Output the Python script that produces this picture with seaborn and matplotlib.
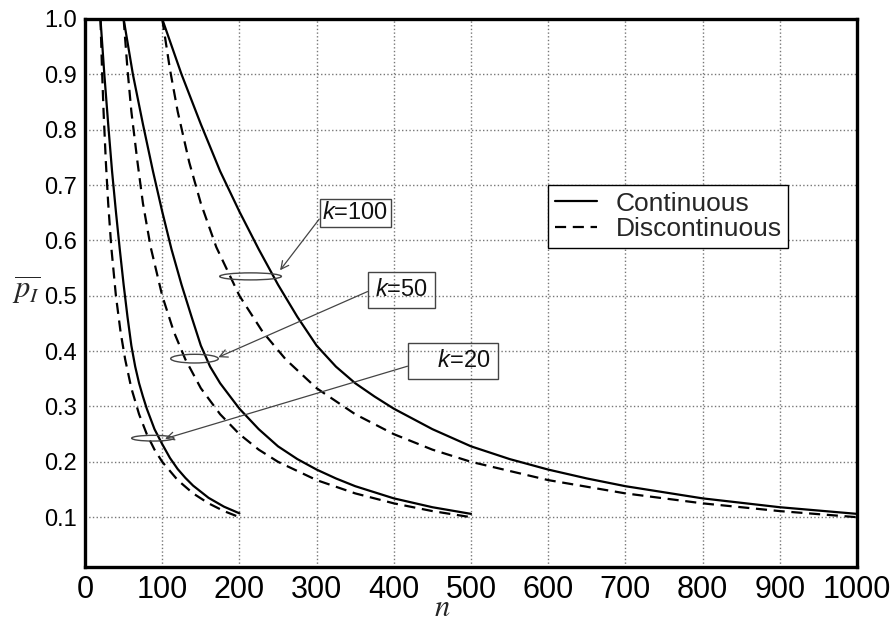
import numpy as np
import pandas as pd
import seaborn as sns
import matplotlib
matplotlib.use("Agg")
import matplotlib.pyplot as plt
from matplotlib.patches import Ellipse
from matplotlib.lines import Line2D

# curves (n, mean p_I)
n_c20 = [20, 25, 30, 35, 40, 45, 50, 55, 60, 65, 70, 75, 80, 90, 100, 110, 120, 130, 140, 160, 180, 200]
p_c20 = [1.0, 0.9, 0.81, 0.725, 0.652, 0.584, 0.52, 0.462, 0.41, 0.372, 0.342, 0.318, 0.296,
         0.259, 0.232, 0.207, 0.187, 0.171, 0.157, 0.135, 0.119, 0.107]
n_d20 = [20, 22, 24, 27, 30, 34, 40, 46, 52, 60, 70, 80, 90, 100, 120, 140, 160, 180, 200]
p_d20 = [1.0, 0.909, 0.833, 0.741, 0.667, 0.588, 0.5, 0.435, 0.385, 0.333, 0.286, 0.25,
         0.222, 0.2, 0.167, 0.143, 0.125, 0.111, 0.1]

n_c50 = [50, 62, 75, 88, 100, 112, 125, 138, 150, 162, 175, 188, 200, 225, 250, 275, 300, 325, 350, 400, 450, 500]
p_c50 = [1.0, 0.9, 0.81, 0.725, 0.652, 0.584, 0.52, 0.462, 0.41, 0.372, 0.342, 0.318, 0.296,
         0.259, 0.228, 0.205, 0.186, 0.17, 0.156, 0.134, 0.118, 0.106]
n_d50 = [50, 55, 60, 68, 75, 85, 100, 115, 130, 150, 175, 200, 225, 250, 300, 350, 400, 450, 500]
p_d50 = [1.0, 0.909, 0.833, 0.741, 0.667, 0.588, 0.5, 0.435, 0.385, 0.333, 0.286, 0.25,
         0.222, 0.2, 0.167, 0.143, 0.125, 0.111, 0.1]

n_c100 = [100, 125, 150, 175, 200, 225, 250, 275, 300, 325, 350, 375, 400, 450, 500, 550, 600, 650, 700, 800, 900, 1000]
p_c100 = [1.0, 0.9, 0.81, 0.725, 0.652, 0.584, 0.52, 0.462, 0.41, 0.372, 0.342, 0.318, 0.296,
          0.259, 0.228, 0.205, 0.186, 0.17, 0.156, 0.134, 0.118, 0.106]
n_d100 = [100, 110, 120, 135, 150, 170, 200, 230, 260, 300, 350, 400, 450, 500, 600, 700, 800, 900, 1000]
p_d100 = [1.0, 0.909, 0.833, 0.741, 0.667, 0.588, 0.5, 0.435, 0.385, 0.333, 0.286, 0.25,
          0.222, 0.2, 0.167, 0.143, 0.125, 0.111, 0.1]

x_ticks = [0, 100, 200, 300, 400, 500, 600, 700, 800, 900, 1000]
y_ticks = [0.1, 0.2, 0.3, 0.4, 0.5, 0.6, 0.7, 0.8, 0.9, 1.0]

# labels: text, ellipse centre, ellipse w/h, arrow tip, box centre
k_labels = ["$k$=100", "$k$=50", r"$\quad\, k$=20$\quad\,$"]
ell_xy = [(214.4, 0.535), (141.8, 0.3864), (87.8, 0.2427)]
ell_wh = [(80, 0.0127), (61.7, 0.0157), (54.8, 0.0103)]
tip_xy = [(252.6, 0.546), (172.7, 0.389), (103.6, 0.2418)]
box_xy = [(350.4, 0.649), (410, 0.51), (476.7, 0.3816)]
box_pad = [0.12, 0.3, 0.3]
arrow_rel = [(0, 0.43), (0, 0.59), (0, 0.38)]

sns.set_theme(style="white")
plt.rcParams['font.family'] = ['Liberation Sans', 'DejaVu Sans']
plt.rcParams['mathtext.fontset'] = 'custom'
plt.rcParams['mathtext.it'] = 'Liberation Sans:italic'
plt.rcParams['mathtext.rm'] = 'Liberation Sans'

fig = plt.figure(figsize=(8.96, 6.22), dpi=100)
ax = fig.add_axes([0.0949, 0.0884, 0.8616, 0.8811])

curves = [(n_c20, p_c20, '-'), (n_d20, p_d20, '--'),
          (n_c50, p_c50, '-'), (n_d50, p_d50, '--'),
          (n_c100, p_c100, '-'), (n_d100, p_d100, '--')]
for xs, ys, ls in curves:
    df = pd.DataFrame({"n": xs, "p": ys})
    sns.lineplot(data=df, x="n", y="p", ax=ax, color='black', lw=1.6,
                 estimator=None, sort=False, legend=False)
    if ls == '--':
        ax.lines[-1].set_dashes((5, 3))

for i in range(len(k_labels)):
    e = Ellipse(ell_xy[i], ell_wh[i][0], ell_wh[i][1], fill=False,
                edgecolor='#444444', lw=1.0, zorder=4)
    ax.add_patch(e)
    ax.annotate(k_labels[i], xy=tip_xy[i], xytext=box_xy[i], textcoords='data',
                ha='center', va='center', fontsize=17, color='#111111',
                bbox=dict(boxstyle='square,pad=%s' % box_pad[i], fc='none', ec='#444444', lw=1.0),
                arrowprops=dict(arrowstyle='->', color='#444444', lw=0.9, relpos=arrow_rel[i],
                                shrinkA=0, shrinkB=0, mutation_scale=14))

ax.set_xlim(0, 1000)
ax.set_ylim(0.01, 1.0)
ax.set_xticks(x_ticks)
ax.set_yticks(y_ticks)
ax.set_xticklabels([str(v) for v in x_ticks], fontsize=22)
ax.set_yticklabels(["%.1f" % v for v in y_ticks], fontsize=17)
ax.tick_params(axis='both', length=0, colors='black')
ax.tick_params(axis='x', pad=6)
ax.tick_params(axis='y', pad=6)
ax.grid(True, linestyle=':', color='#777777', lw=1.0)
for s in ax.spines.values():
    s.set_color('black')
    s.set_linewidth(2.4)

ax.set_xlabel('$n$', fontsize=22, math_fontfamily='stix', va='center')
ax.xaxis.set_label_coords(0.463, -0.074)
ax.set_ylabel(r'$\overline{p_I}$', fontsize=22, math_fontfamily='stix', rotation=0,
              ha='center', va='center')
ax.yaxis.set_label_coords(-0.076, 0.505)

handles = [Line2D([], [], color='black', lw=1.6),
           Line2D([], [], color='black', lw=1.6, dashes=(5, 3))]
leg = ax.legend(handles, ['Continuous', 'Discontinuous'], loc='upper left',
                bbox_to_anchor=(0.6, 0.697), fontsize=19, frameon=True,
                fancybox=False, framealpha=1, edgecolor='black',
                borderpad=0.25, labelspacing=0.05, handlelength=1.6,
                handletextpad=0.7, borderaxespad=0)
leg.get_frame().set_linewidth(1.0)

fig.savefig('out.png', dpi=100)
